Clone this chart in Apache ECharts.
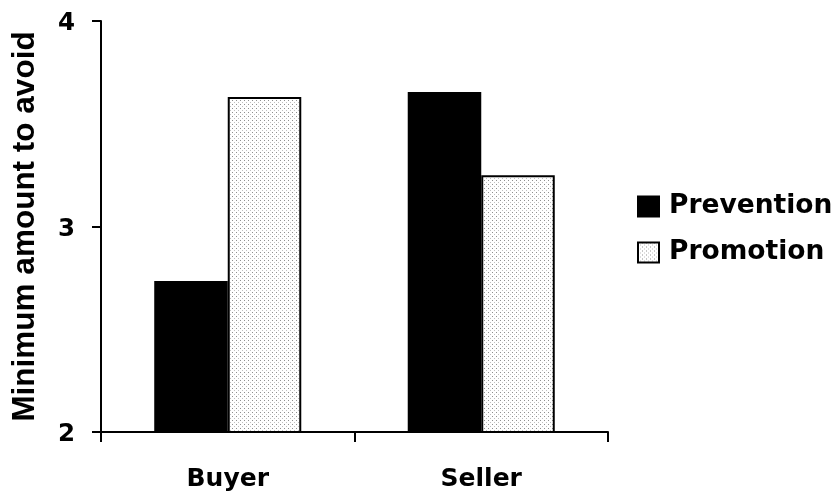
<!DOCTYPE html>
<html><head><meta charset="utf-8">
<script src="https://cdn.jsdelivr.net/npm/echarts@6/dist/echarts.min.js"></script>
<style>html,body{margin:0;padding:0;background:#fff}#c{width:835px;height:501px}</style>
</head><body><div id="c"></div>
<script>
const categories = ['Buyer', 'Seller'];
const preventionValues = [2.735, 3.655];
const promotionValues = [3.63, 3.25];
const yTicks = [2, 3, 4];

function dotPattern() {
  const c = document.createElement('canvas');
  c.width = 4; c.height = 4;
  const g = c.getContext('2d');
  g.fillStyle = '#ffffff'; g.fillRect(0, 0, 4, 4);
  g.fillStyle = '#8f8f8f'; g.fillRect(0, 0, 1, 1);
  g.fillStyle = '#c0c0c0'; g.fillRect(2, 2, 1, 1);
  return c;
}
const pat = { image: dotPattern(), repeat: 'repeat' };
const fontA = 'Liberation Sans, Arial, sans-serif';
const fontW = 'DejaVu Sans, sans-serif';
const chart = echarts.init(document.getElementById('c'));
chart.setOption({
  animation: false,
  textStyle: { fontFamily: fontA },
  grid: { left: 101, right: 227, top: 21, bottom: 69, containLabel: false },
  legend: {
    orient: 'vertical', left: 637, top: 193, padding: 0, itemWidth: 21, itemHeight: 20, itemGap: 19,
    textStyle: { fontSize: 26.5, fontWeight: 'bold', color: '#000', fontFamily: fontW, padding: [0, 0, 0, 5] },
    data: [
      { name: 'Prevention', icon: 'rect', itemStyle: { color: '#000', borderColor: '#000', borderWidth: 2 } },
      { name: 'Promotion', icon: 'rect', itemStyle: { color: pat, borderColor: '#000', borderWidth: 2 } }
    ]
  },
  xAxis: {
    type: 'category', data: categories,
    axisLine: { lineStyle: { color: '#000', width: 2 } },
    axisTick: { show: true, length: 10, lineStyle: { color: '#000', width: 2 } },
    axisLabel: { fontSize: 25, fontWeight: 'bold', color: '#000', margin: 35, fontFamily: fontW },
    splitLine: { show: false }
  },
  yAxis: {
    type: 'value', min: yTicks[0], max: yTicks[yTicks.length - 1], interval: 1,
    name: 'Minimum amount to avoid', nameLocation: 'middle', nameGap: 60,
    nameTextStyle: { fontSize: 31.5, fontWeight: 'bold', color: '#000', fontFamily: fontA },
    axisLine: { show: true, lineStyle: { color: '#000', width: 2 } },
    axisTick: { show: true, length: 9, lineStyle: { color: '#000', width: 2 } },
    axisLabel: {
      margin: 26, formatter: '{d|{value}}',
      rich: { d: { fontSize: 24.5, fontWeight: 'bold', color: '#000', fontFamily: fontW, padding: [6, 0, 0, 0] } }
    },
    splitLine: { show: false }
  },
  series: [
    { name: 'Prevention', type: 'bar', data: preventionValues, barGap: '0%', barCategoryGap: '42%',
      itemStyle: { color: '#000', borderColor: '#000', borderWidth: 2 } },
    { name: 'Promotion', type: 'bar', data: promotionValues, barGap: '0%', barCategoryGap: '42%',
      itemStyle: { color: pat, borderColor: '#000', borderWidth: 2 } }
  ]
});
</script></body></html>
